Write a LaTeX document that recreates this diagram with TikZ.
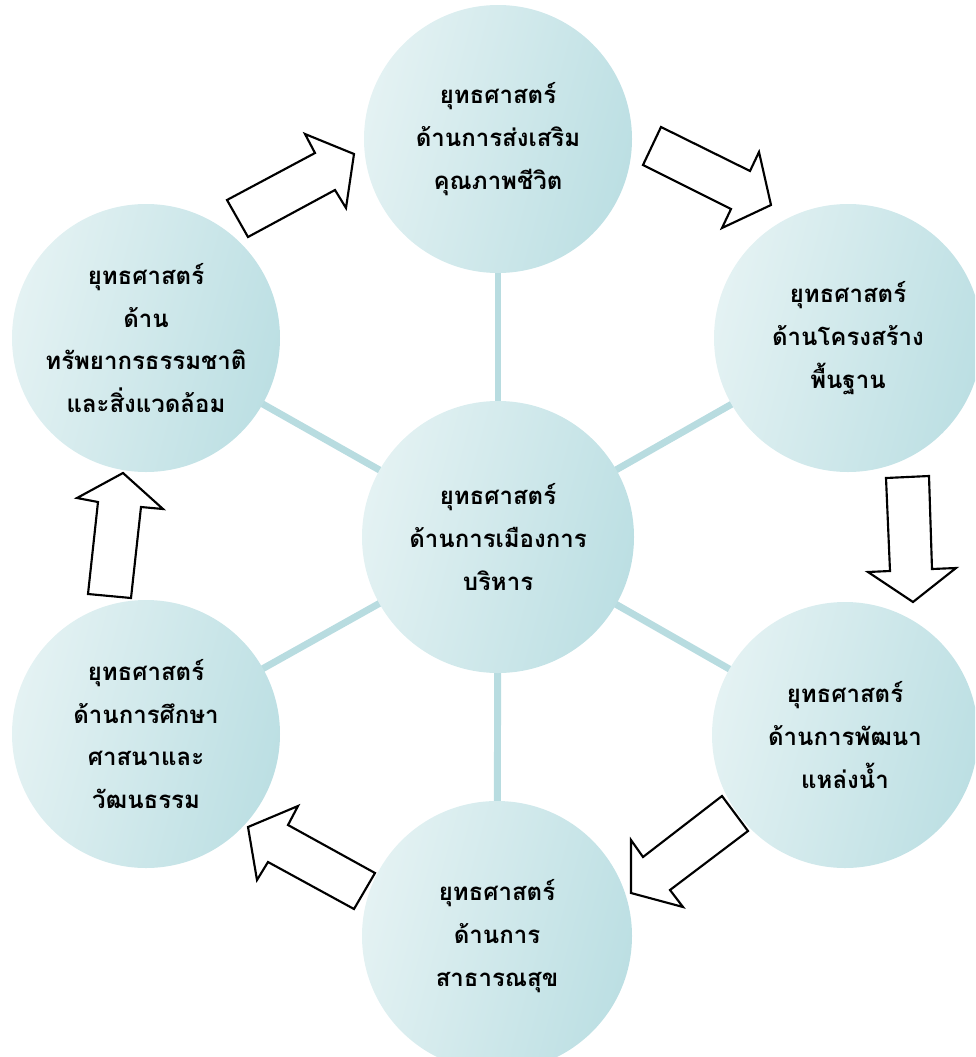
\documentclass[tikz,border=0pt]{standalone}
\usepackage{fontspec}
\newfontfamily\thai[Script=Thai]{Loma}
\usetikzlibrary{backgrounds}
\definecolor{bublight}{HTML}{E4F2F3}
\definecolor{bubdark}{HTML}{BCDFE3}
\definecolor{spokecol}{HTML}{B8DCE0}
\begin{document}
\begin{tikzpicture}[x=0.75pt,y=-0.75pt,
  bub/.style={circle, minimum size=#1*1.5pt, inner sep=0pt,
    left color=bublight, right color=bubdark, shading angle=75,
    align=center, text=black,
    font=\thai\bfseries\fontsize{18}{32}\selectfont},
  spoke/.style={draw=spokecol, line width=5.2pt},
  blockarrow/.style={draw=black, fill=white, line width=1.6pt, line join=miter}]
\useasboundingbox (0,0) rectangle (975,1057);
\clip (0,0) rectangle (975,1057);

\node[bub=136] (c0) at (498,537) {ยุทธศาสตร์\\ด้านการเมืองการ\\บริหาร};
\node[bub=134] (ct) at (498,139) {ยุทธศาสตร์\\ด้านการส่งเสริม\\คุณภาพชีวิต};
\node[bub=134] (ctr) at (848,338) {ยุทธศาสตร์\\ด้านโครงสร้าง\\พื้นฐาน};
\node[bub=133] (cbr) at (845,735) {ยุทธศาสตร์\\ด้านการพัฒนา\\แหล่งน้ำ};
\node[bub=135] (cb) at (497,936) {ยุทธศาสตร์\\ด้านการ\\สาธารณสุข};
\node[bub=134] (cbl) at (146,734) {ยุทธศาสตร์\\ด้านการศึกษา\\ศาสนาและ\\วัฒนธรรม};
\node[bub=134] (ctl) at (146,338) {ยุทธศาสตร์\\ด้าน\\ทรัพยากรธรรมชาติ\\และสิ่งแวดล้อม};

\begin{scope}[on background layer]
  \foreach \o in {ct,ctr,cbr,cb,cbl,ctl}
    \draw[spoke] (c0.center) -- (\o.center);
\end{scope}

% block arrows
\draw[blockarrow] (248,237) -- (227,200) -- (315,153) -- (305,134) -- (354,154) -- (346,208) -- (335,190) -- cycle;
\draw[blockarrow] (661,127) -- (643,165) -- (731,209) -- (722,228) -- (771,205) -- (759,152) -- (750,171) -- cycle;
\draw[blockarrow] (886,478) -- (929,476) -- (932,569) -- (956,568) -- (913,602) -- (868,572) -- (890,571) -- cycle;
\draw[blockarrow] (722,796) -- (748,831) -- (670,890) -- (683,907) -- (631,893) -- (631,840) -- (643,857) -- cycle;
\draw[blockarrow] (375,873) -- (354,909) -- (268,862) -- (257,880) -- (248,827) -- (298,806) -- (288,825) -- cycle;
\draw[blockarrow] (131,598) -- (88,594) -- (98,502) -- (77,498) -- (123,473) -- (163,509) -- (141,507) -- cycle;
\end{tikzpicture}
\end{document}
